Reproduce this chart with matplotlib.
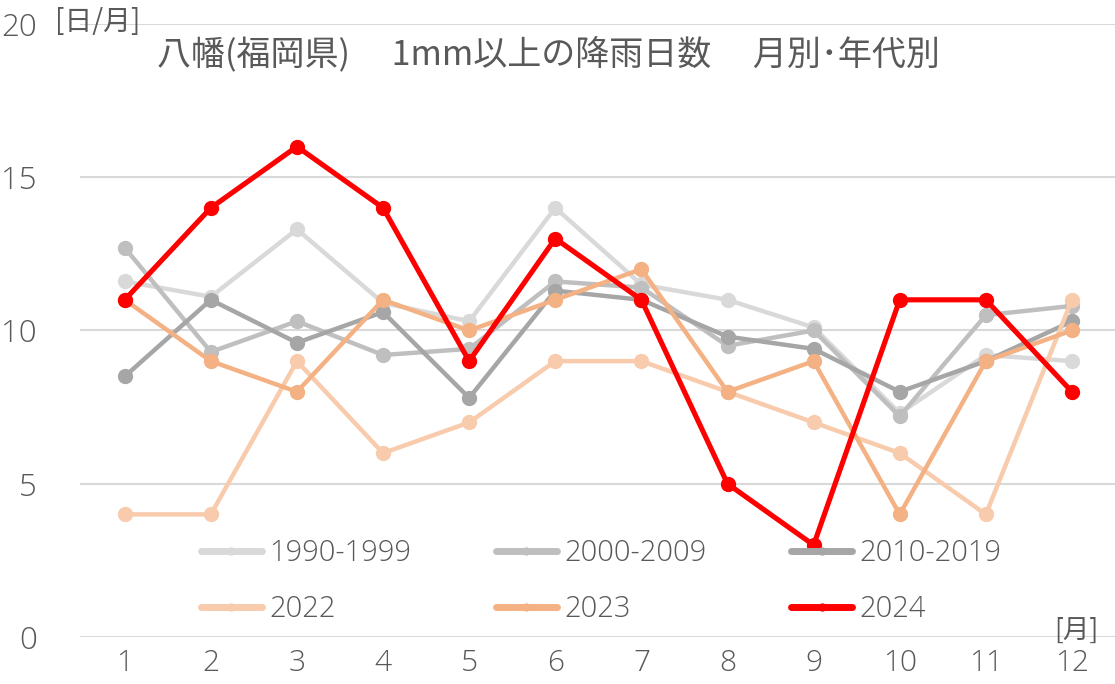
import numpy as np
import matplotlib
matplotlib.use('Agg')
import matplotlib.pyplot as plt

plt.rcParams['font.family'] = ['Noto Sans CJK JP', 'DejaVu Sans']

months = list(range(1, 13))
month_labels = [str(m) for m in months]

# 1mm以上の降雨日数 [日/月]
d1990 = [11.6, 11.1, 13.3, 10.9, 10.3, 14.0, 11.5, 11.0, 10.1, 7.3, 9.2, 9.0]
d2000 = [12.7, 9.3, 10.3, 9.2, 9.4, 11.6, 11.4, 9.5, 10.0, 7.2, 10.5, 10.8]
d2010 = [8.5, 11.0, 9.6, 10.6, 7.8, 11.3, 11.0, 9.8, 9.4, 8.0, 9.0, 10.3]
d2022 = [4, 4, 9, 6, 7, 9, 9, 8, 7, 6, 4, 11]
d2023 = [11, 9, 8, 11, 10, 11, 12, 8, 9, 4, 9, 10]
d2024 = [11, 14, 16, 14, 9, 13, 11, 5, 3, 11, 11, 8]

series = [
	('1990-1999', d1990, '#d9d9d9', 3.2),
	('2000-2009', d2000, '#bfbfbf', 3.2),
	('2010-2019', d2010, '#a6a6a6', 3.2),
	('2022', d2022, '#f8cbad', 3.2),
	('2023', d2023, '#f4b183', 3.2),
	('2024', d2024, '#ff0000', 3.7),
]

txt = '#595959'
numfont = ['Open Sans', 'DejaVu Sans']

fig = plt.figure(figsize=(11.15, 6.84), dpi=100)
ax = fig.add_axes([0.0717, 0.0687, 0.9283, 0.8963])

lines = []
for name, vals, col, lw in series:
	ln, = ax.plot(months, vals, color=col, lw=lw, marker='o', ms=10,
			solid_capstyle='round', solid_joinstyle='round', label=name)
	lines.append(ln)

ax.set_xlim(0.48, 12.5)
ax.set_ylim(0, 20)
ax.set_yticks([0, 5, 10, 15, 20])
ax.set_xticks(months)
ax.set_xticklabels(month_labels)
ax.yaxis.grid(True, color='#d9d9d9', lw=1.5)
ax.set_axisbelow(True)
for s in ax.spines.values():
	s.set_visible(False)
ax.tick_params(length=0, colors=txt)
ax.tick_params(axis='y', pad=31)
ax.tick_params(axis='x', pad=8)
for lab in ax.get_yticklabels():
	lab.set_fontfamily(numfont)
	lab.set_fontsize(22.5)
	lab.set_fontweight('light')
for lab in ax.get_xticklabels():
	lab.set_fontfamily(numfont)
	lab.set_fontsize(21.5)
	lab.set_fontweight('light')

fig.text(0.4915, 0.92, '八幡(福岡県)　 1mm以上の降雨日数　 月別･年代別',
		 ha='center', va='center', fontsize=24.5, color=txt)
fig.text(0.049, 0.968, '[日/月]', ha='left', va='center', fontsize=20, color=txt)
fig.text(0.965, 0.078, '[月]', ha='center', va='center', fontsize=19, color=txt)

# row-major order like the original legend
order = [0, 3, 1, 4, 2, 5]
leg = fig.legend([lines[i] for i in order], [series[i][0] for i in order],
				 loc='upper left', bbox_to_anchor=(0.18, 0.212), ncol=3,
				 frameon=False, borderpad=0, borderaxespad=0,
				 prop={'family': numfont, 'size': 21, 'weight': 'light'},
				 labelcolor=txt, handlelength=2.1, handletextpad=0.25,
				 columnspacing=2.9, labelspacing=0.9, markerscale=0.5)
for h in leg.legend_handles:
	h.set_linewidth(5.0)

fig.savefig('out.png', dpi=100)
